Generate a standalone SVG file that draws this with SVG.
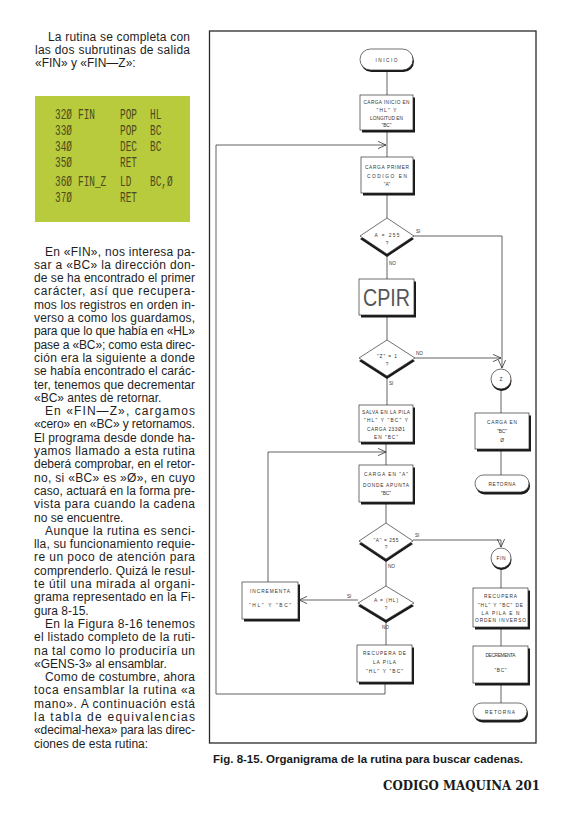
<svg xmlns="http://www.w3.org/2000/svg" width="580" height="821" viewBox="0 0 580 821">
<defs>
<style>
.t{font-family:"Liberation Sans",Arial,sans-serif;font-size:12px;fill:#1e1e1e}
.c{font-family:"Liberation Mono","DejaVu Sans Mono",monospace;font-size:14.5px;fill:#4f4a1c}
.f{font-family:"Liberation Sans",Arial,sans-serif;font-size:4.8px;fill:#333;text-anchor:middle}
.lb{font-family:"Liberation Sans",Arial,sans-serif;font-size:4.6px;fill:#333}
.ln{stroke:#3a3a3a;stroke-width:0.8;fill:none}
.bx{fill:#fff;stroke:#333;stroke-width:0.7}
.sh{fill:#1a1a1a}
.cap{font-family:"Liberation Sans",Arial,sans-serif;font-size:11.5px;font-weight:bold;fill:#1a1a1a}
.ft{font-family:"DejaVu Serif","Liberation Serif",serif;font-size:13px;font-weight:bold;fill:#1a1a1a}
</style>
<marker id="ah" viewBox="0 0 10 10" refX="10" refY="5" markerWidth="8" markerHeight="8" orient="auto" markerUnits="userSpaceOnUse"><path d="M0,0.5 L10,5 L0,9.5" fill="none" stroke="#333" stroke-width="1"/></marker>
</defs>
<rect width="580" height="821" fill="#ffffff"/>

<g id="text-top">
<text class="t" x="48" y="41" textLength="142">La rutina se completa con</text>
<text class="t" x="35" y="54" textLength="155">las dos subrutinas de salida</text>
<text class="t" x="35" y="67">«FIN» y «FIN—Z»:</text>
</g>

<g id="code">
<rect x="35" y="96" width="155" height="126" fill="#b7cb3d"/>
<g class="c" transform="scale(0.65,1)">
<text x="84.6" y="119.5">32Ø</text>
<text x="120" y="119.5">FIN</text>
<text x="184.6" y="119.5">POP</text>
<text x="230.8" y="119.5">HL</text>
<text x="84.6" y="135.5">33Ø</text>
<text x="184.6" y="135.5">POP</text>
<text x="230.8" y="135.5">BC</text>
<text x="84.6" y="151.5">34Ø</text>
<text x="184.6" y="151.5">DEC</text>
<text x="230.8" y="151.5">BC</text>
<text x="84.6" y="167.5">35Ø</text>
<text x="184.6" y="167.5">RET</text>
<text x="84.6" y="186.5">36Ø</text>
<text x="120" y="186.5">FIN_Z</text>
<text x="184.6" y="186.5">LD</text>
<text x="230.8" y="186.5">BC,Ø</text>
<text x="84.6" y="202.5">37Ø</text>
<text x="184.6" y="202.5">RET</text>
</g>
</g>

<g id="text-body">
<text class="t" x="45" y="255.5" textLength="150">En «FIN», nos interesa pa-</text>
<text class="t" x="34" y="268.8" textLength="161">sar a «BC» la dirección don-</text>
<text class="t" x="34" y="282.1" textLength="161">de se ha encontrado el primer</text>
<text class="t" x="34" y="295.4" textLength="161">carácter, así que recupera-</text>
<text class="t" x="34" y="308.7" textLength="161">mos los registros en orden in-</text>
<text class="t" x="34" y="322" textLength="161">verso a como los guardamos,</text>
<text class="t" x="34" y="335.3" textLength="161">para que lo que había en «HL»</text>
<text class="t" x="34" y="348.6" textLength="161">pase a «BC»; como esta direc-</text>
<text class="t" x="34" y="361.9" textLength="161">ción era la siguiente a donde</text>
<text class="t" x="34" y="375.2" textLength="161">se había encontrado el carác-</text>
<text class="t" x="34" y="388.5" textLength="161">ter, tenemos que decrementar</text>
<text class="t" x="34" y="401.8">«BC» antes de retornar.</text>
<text class="t" x="45" y="415.1" textLength="150">En «FIN—Z», cargamos</text>
<text class="t" x="34" y="428.4" textLength="161">«cero» en «BC» y retornamos.</text>
<text class="t" x="34" y="441.7" textLength="161">El programa desde donde ha-</text>
<text class="t" x="34" y="455" textLength="161">yamos llamado a esta rutina</text>
<text class="t" x="34" y="468.3" textLength="161">deberá comprobar, en el retor-</text>
<text class="t" x="34" y="481.6" textLength="161">no, si «BC» es »Ø», en cuyo</text>
<text class="t" x="34" y="494.9" textLength="161">caso, actuará en la forma pre-</text>
<text class="t" x="34" y="508.2" textLength="161">vista para cuando la cadena</text>
<text class="t" x="34" y="521.5">no se encuentre.</text>
<text class="t" x="45" y="534.8" textLength="150">Aunque la rutina es senci-</text>
<text class="t" x="34" y="548.1" textLength="161">lla, su funcionamiento requie-</text>
<text class="t" x="34" y="561.4" textLength="161">re un poco de atención para</text>
<text class="t" x="34" y="574.7" textLength="161">comprenderlo. Quizá le resul-</text>
<text class="t" x="34" y="588" textLength="161">te útil una mirada al organi-</text>
<text class="t" x="34" y="601.3" textLength="161">grama representado en la Fi-</text>
<text class="t" x="34" y="614.6">gura 8-15.</text>
<text class="t" x="45" y="627.9" textLength="150">En la Figura 8-16 tenemos</text>
<text class="t" x="34" y="641.2" textLength="161">el listado completo de la ruti-</text>
<text class="t" x="34" y="654.5" textLength="161">na tal como lo produciría un</text>
<text class="t" x="34" y="667.8">«GENS-3» al ensamblar.</text>
<text class="t" x="45" y="681.1" textLength="150">Como de costumbre, ahora</text>
<text class="t" x="34" y="694.4" textLength="161">toca ensamblar la rutina «a</text>
<text class="t" x="34" y="707.7" textLength="161">mano». A continuación está</text>
<text class="t" x="34" y="721" textLength="161">la tabla de equivalencias</text>
<text class="t" x="34" y="734.3" textLength="161">«decimal-hexa» para las direc-</text>
<text class="t" x="34" y="747.6">ciones de esta rutina:</text>
</g>

<g id="frame">
<rect x="209.5" y="31" width="326.5" height="712" fill="none" stroke="#2a2a2a" stroke-width="1.3"/>
</g>

<g id="connectors">
<path class="ln" d="M387,70 V95"/>
<path class="ln" d="M387,130 V157"/>
<path class="ln" d="M387,193 V218"/>
<path class="ln" d="M387,254 V279"/>
<path class="ln" d="M387,315 V340"/>
<path class="ln" d="M387,376 V405"/>
<path class="ln" d="M386,442 V465"/>
<path class="ln" d="M386,502 V523"/>
<path class="ln" d="M386,559 V586"/>
<path class="ln" d="M386,620 V645"/>
<path class="ln" d="M385,682 V694 H216 V145 H386" marker-end="url(#ah)"/>
<path class="ln" d="M268,582 V452 H386" marker-end="url(#ah)"/>
<path class="ln" d="M414,236 H502 V368" marker-end="url(#ah)"/>
<path class="ln" d="M415,358 H501" marker-end="url(#ah)"/>
<path class="ln" d="M413,540 H501 V547" marker-end="url(#ah)"/>
<path class="ln" d="M358,600 H299" marker-end="url(#ah)"/>
<path class="ln" d="M501,389 V413"/>
<path class="ln" d="M501,449 V475"/>
<path class="ln" d="M501,568 V588"/>
<path class="ln" d="M501,627 V646"/>
<path class="ln" d="M501,683 V703"/>
<text class="lb" x="416" y="233">SI</text>
<text class="lb" x="389" y="265">NO</text>
<text class="lb" x="416" y="355">NO</text>
<text class="lb" x="389" y="385">SI</text>
<text class="lb" x="415" y="537">SI</text>
<text class="lb" x="388" y="568">NO</text>
<text class="lb" x="347" y="598">SI</text>
<text class="lb" x="382" y="629">NO</text>
</g>

<g id="inicio">
<rect class="sh" x="361" y="51" width="53" height="21" rx="10.5"/>
<rect class="bx" x="360" y="49" width="53" height="21" rx="10.5"/>
<text class="f" x="386.5" y="61.5" textLength="22">INICIO</text>
</g>

<g id="carga-inicio">
<rect class="sh" x="362" y="97.5" width="53" height="35"/>
<rect class="bx" x="360" y="95" width="53" height="35"/>
<text class="f" x="386.5" y="104" textLength="46">CARGA INICIO EN</text>
<text class="f" x="386.5" y="112" textLength="20">"HL"  Y</text>
<text class="f" x="386.5" y="120" textLength="33">LONGITUD EN</text>
<text class="f" x="386.5" y="127" textLength="10">"BC"</text>
</g>

<g id="carga-primer">
<rect class="sh" x="363" y="159.5" width="52" height="36"/>
<rect class="bx" x="361" y="157" width="52" height="36"/>
<text class="f" x="387" y="169" textLength="44">CARGA PRIMER</text>
<text class="f" x="387" y="178" textLength="40">CODIGO EN</text>
<text class="f" x="387" y="186">"A"</text>
</g>

<g id="dec-a255">
<polygon class="sh" points="387,221 414,239 387,257 360,239"/>
<polygon class="bx" points="387,218 414,236 387,254 360,236"/>
<text class="f" x="387" y="237" textLength="25">A  =  255</text>
<text class="f" x="387" y="245">?</text>
</g>

<g id="cpir">
<rect class="sh" x="361" y="281.5" width="55" height="36"/>
<rect class="bx" x="359" y="279" width="55" height="36"/>
<text x="386.5" y="306" text-anchor="middle" font-family="Liberation Sans, Arial, sans-serif" font-size="24" fill="#555" textLength="47" lengthAdjust="spacingAndGlyphs">CPIR</text>
</g>

<g id="dec-z1">
<polygon class="sh" points="387,343 415,361 387,379 359,361"/>
<polygon class="bx" points="387,340 415,358 387,376 359,358"/>
<text class="f" x="387" y="358" textLength="20">"Z" = 1</text>
<text class="f" x="387" y="366">?</text>
</g>

<g id="salva">
<rect class="sh" x="361" y="407.5" width="54" height="37"/>
<rect class="bx" x="359" y="405" width="54" height="37"/>
<text class="f" x="386" y="414" textLength="48">SALVA EN LA PILA</text>
<text class="f" x="386" y="422" textLength="44">"HL" Y "BC"  Y</text>
<text class="f" x="386" y="431" textLength="38">CARGA 233Ø1</text>
<text class="f" x="386" y="438.5" textLength="24">EN  "BC"</text>
</g>

<g id="carga-a">
<rect class="sh" x="361" y="467.5" width="54" height="37"/>
<rect class="bx" x="359" y="465" width="54" height="37"/>
<text class="f" x="386" y="476" textLength="44">CARGA EN "A"</text>
<text class="f" x="386" y="487" textLength="46">DONDE APUNTA</text>
<text class="f" x="386" y="495" textLength="10">"BC"</text>
</g>

<g id="dec-a255b">
<polygon class="sh" points="386,526 413,544 386,562 359,544"/>
<polygon class="bx" points="386,523 413,541 386,559 359,541"/>
<text class="f" x="386" y="542" textLength="25">"A" = 255</text>
<text class="f" x="386" y="549">?</text>
</g>

<g id="dec-ahl">
<polygon class="sh" points="386,589 414,606 386,623 358,606"/>
<polygon class="bx" points="386,586 414,603 386,620 358,603"/>
<text class="f" x="386" y="602" textLength="24">A = (HL)</text>
<text class="f" x="386" y="610">?</text>
</g>

<g id="incrementa">
<rect class="sh" x="244" y="584.5" width="56" height="37"/>
<rect class="bx" x="242" y="582" width="56" height="37"/>
<text class="f" x="270" y="593" textLength="40">INCREMENTA</text>
<text class="f" x="270" y="607" textLength="42">"HL"  Y  "BC"</text>
</g>

<g id="recupera-pila">
<rect class="sh" x="359" y="647.5" width="55" height="37"/>
<rect class="bx" x="357" y="645" width="55" height="37"/>
<text class="f" x="384.5" y="655" textLength="43">RECUPERA DE</text>
<text class="f" x="384.5" y="664" textLength="23">LA PILA</text>
<text class="f" x="384.5" y="673" textLength="37">"HL"  Y  "BC"</text>
</g>

<g id="z-circle">
<circle class="sh" cx="501.5" cy="381" r="10"/>
<circle class="bx" cx="501" cy="379" r="10"/>
<text class="f" x="501" y="381">Z</text>
</g>

<g id="carga-bc0">
<rect class="sh" x="477" y="415.5" width="54" height="36"/>
<rect class="bx" x="475" y="413" width="54" height="36"/>
<text class="f" x="502" y="424" textLength="30">CARGA EN</text>
<text class="f" x="502" y="433" textLength="10">"BC"</text>
<text class="f" x="502" y="442">Ø</text>
</g>

<g id="retorna1">
<rect class="sh" x="476" y="477.5" width="54" height="17" rx="8.5"/>
<rect class="bx" x="475" y="475" width="54" height="17" rx="8.5"/>
<text class="f" x="502" y="485.5" textLength="27">RETORNA</text>
</g>

<g id="fin-circle">
<circle class="sh" cx="501.5" cy="560" r="10"/>
<circle class="bx" cx="501" cy="558" r="10"/>
<text class="f" x="501" y="560" textLength="9">FIN</text>
</g>

<g id="recupera-inverso">
<rect class="sh" x="475" y="590.5" width="55" height="39"/>
<rect class="bx" x="473" y="588" width="55" height="39"/>
<text class="f" x="500.5" y="598" textLength="33">RECUPERA</text>
<text class="f" x="500.5" y="607" textLength="45">"HL" Y "BC" DE</text>
<text class="f" x="500.5" y="615" textLength="38">LA PILA E N</text>
<text class="f" x="500.5" y="622" textLength="51">ORDEN INVERSO</text>
</g>

<g id="decrementa">
<rect class="sh" x="475" y="648.5" width="55" height="37"/>
<rect class="bx" x="473" y="646" width="55" height="37"/>
<text class="f" x="500.5" y="657" textLength="30">DECREMENTA</text>
<text class="f" x="500.5" y="672" textLength="12">"BC"</text>
</g>

<g id="retorna2">
<rect class="sh" x="474" y="705.5" width="54" height="17" rx="8.5"/>
<rect class="bx" x="473" y="703" width="54" height="17" rx="8.5"/>
<text class="f" x="500" y="713.5" textLength="30">RETORNA</text>
</g>

<g id="captions">
<text class="cap" x="213" y="763" textLength="310">Fig. 8-15. Organigrama de la rutina para buscar cadenas.</text>
<text class="ft" x="383" y="790" textLength="157" lengthAdjust="spacingAndGlyphs">CODIGO MAQUINA 201</text>
</g>
</svg>
